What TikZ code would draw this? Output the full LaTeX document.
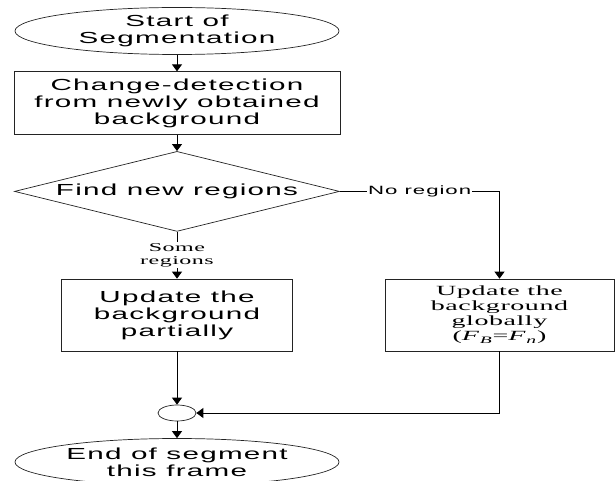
\documentclass[tikz,border=0pt]{standalone}
\usepackage{fontspec}
\usepackage{tikz}
\usetikzlibrary{arrows.meta,positioning,shapes.geometric}
\newfontfamily\fcsans[FakeStretch=1.85,LetterSpace=8]{Liberation Sans}
\newfontfamily\fcserif[FakeStretch=2.0,LetterSpace=4]{Liberation Serif}
\definecolor{fcedge}{RGB}{35,35,35}
\tikzset{
  fcbox/.style={
    draw=fcedge, line width=0.7pt, align=center, inner sep=0pt,
    font=\fontsize{16}{17}\selectfont\fcsans
  },
  term/.style={fcbox, ellipse, minimum width=324pt, minimum height=47pt},
  proc/.style={fcbox, rectangle, minimum height=72pt},
  dec/.style={fcbox, diamond, aspect=4, minimum width=325pt, minimum height=80pt},
  joint/.style={fcbox, ellipse, minimum width=38pt, minimum height=16pt},
  serifbox/.style={proc, font=\fontsize{14}{15}\selectfont\fcserif},
  arr/.style={-{Triangle[length=7pt,width=10pt]}, draw=black, line width=0.9pt},
  lbl/.style={fill=white, inner sep=1.5pt, align=center},
  every picture/.append style={line join=miter}
}
\begin{document}
\begin{tikzpicture}[x=1pt, y=-1pt, node distance=16pt]
  \useasboundingbox (0,0) rectangle (615,481);
  \node[term] (start) at (177,31) {Start of\\Segmentation};
  \node[proc, minimum width=326pt, minimum height=63pt, below=16.5pt of start] (detect)
    {Change-detection\\from newly obtained\\background};
  \node[dec, below=of detect] (find) {Find new regions};
  \node[proc, minimum width=231pt] (partial) at (177,315)
    {Update the\\background\\partially};
  \node[serifbox, minimum width=229pt] (global) at (499.5,315)
    {Update the\\background\\globally\\(\textit{F}\textsubscript{\textit{B}}=\textit{F}\textsubscript{\textit{n}})};
  \node[joint] (merge) at (177,413) {};
  \node[term] (stop) at (177,462) {End of segment\\this frame};

  \draw[arr] (start) -- (detect);
  \draw[arr] (detect) -- (find);
  \draw[arr] (find) -- node[lbl, font=\fontsize{12}{13}\selectfont\fcserif]
    {Some\\regions} (partial);
  \draw[arr] (find.east) -| node[lbl, pos=0.25, inner sep=1pt, font=\fontsize{12}{13}\selectfont\fcsans]
    {No region} (global.north);
  \draw[arr] (partial) -- (merge);
  \draw[arr] (global.south) |- (merge.east);
  \draw[arr] (merge) -- (stop);
\end{tikzpicture}
\end{document}
